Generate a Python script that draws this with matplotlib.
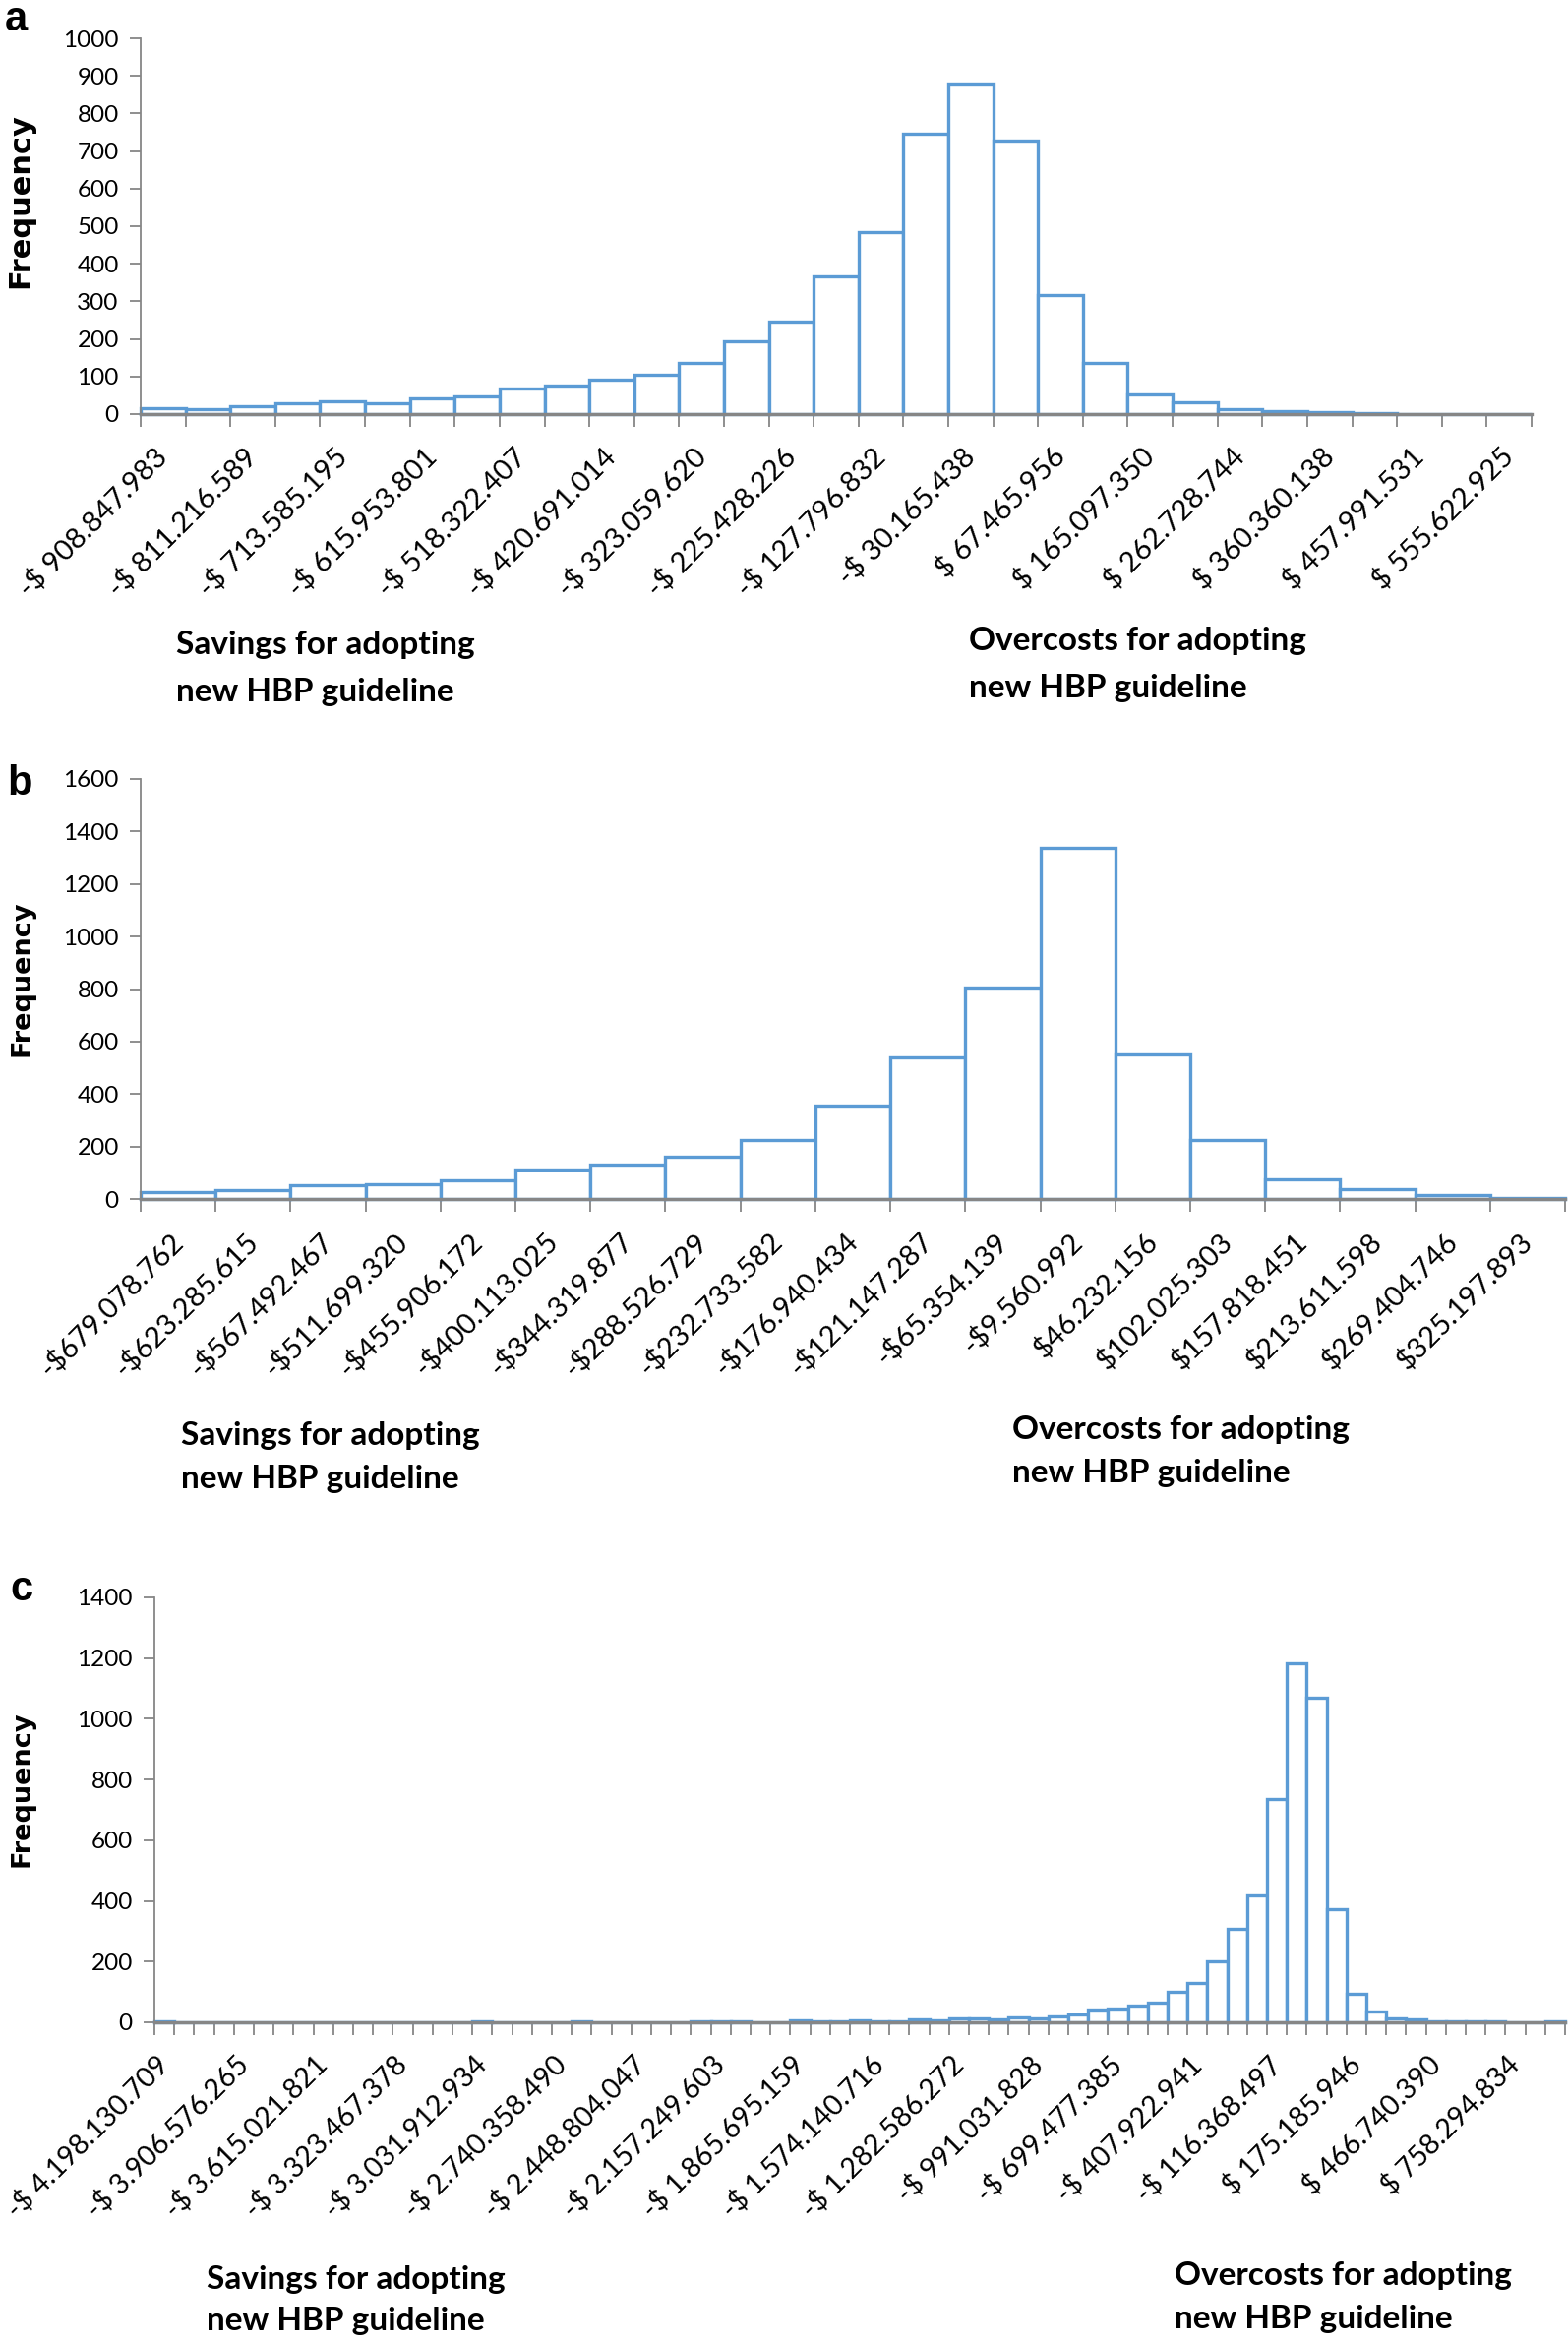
import numpy as np
import matplotlib.pyplot as plt

# %% Data
# panel a: 31 bins, labels on every 2nd bin
counts_a = [15, 13, 20, 30, 34, 29, 41, 48, 67, 77, 91, 105, 136, 195, 245,
            366, 484, 746, 880, 727, 318, 135, 52, 31, 12, 8, 6, 3, 1, 0, 0]
labels_a = ["-$ 908.847.983", "-$ 811.216.589", "-$ 713.585.195",
            "-$ 615.953.801", "-$ 518.322.407", "-$ 420.691.014",
            "-$ 323.059.620", "-$ 225.428.226", "-$ 127.796.832",
            "-$ 30.165.438", "$ 67.465.956", "$ 165.097.350",
            "$ 262.728.744", "$ 360.360.138", "$ 457.991.531",
            "$ 555.622.925"]

# panel b: 19 bins, a label on every bin
counts_b = [27, 35, 51, 57, 71, 112, 131, 161, 226, 357, 540, 804, 1338,
            549, 224, 76, 39, 14, 4]
labels_b = ["-$679.078.762", "-$623.285.615", "-$567.492.467",
            "-$511.699.320", "-$455.906.172", "-$400.113.025",
            "-$344.319.877", "-$288.526.729", "-$232.733.582",
            "-$176.940.434", "-$121.147.287", "-$65.354.139",
            "-$9.560.992", "$46.232.156", "$102.025.303", "$157.818.451",
            "$213.611.598", "$269.404.746", "$325.197.893"]

# panel c: 71 bins, labels on every 4th bin
counts_c = [3, 0, 0, 0, 0, 0, 0, 0, 0, 0, 0, 0, 0, 0, 0, 0, 3, 0, 0, 0,
            0, 2, 0, 0, 0, 0, 0, 2, 2, 2, 0,
            0, 7, 4, 2, 6, 2, 2, 11, 7, 13, 13, 11, 16, 13, 20, 25, 43, 46,
            56, 65, 99, 130, 202, 308, 418, 735, 1182, 1070, 373, 95, 35,
            14, 9, 4, 4, 2, 2, 1, 0, 2]
labels_c = ["-$ 4.198.130.709", "-$ 3.906.576.265", "-$ 3.615.021.821",
            "-$ 3.323.467.378", "-$ 3.031.912.934", "-$ 2.740.358.490",
            "-$ 2.448.804.047", "-$ 2.157.249.603", "-$ 1.865.695.159",
            "-$ 1.574.140.716", "-$ 1.282.586.272", "-$ 991.031.828",
            "-$ 699.477.385", "-$ 407.922.941", "-$ 116.368.497",
            "$ 175.185.946", "$ 466.740.390", "$ 758.294.834"]

# %% Style
W, H = 1594, 2382
BLUE = '#5B9BD5'
GREY = '#868686'
TXT = ['Lato', 'DejaVu Sans']

fig = plt.figure(figsize=(W/100, H/100), dpi=100)


def px_box(l, t, r, b):
    # pixel box (left, top, right, bottom) -> figure fraction
    return [l/W, 1 - b/H, (r - l)/W, (b - t)/H]


def draw_panel(box, counts, labels, step, ymax, ystep, xfs):
    ax = fig.add_axes(px_box(*box))
    n = len(counts)
    ax.bar(np.arange(n), counts, width=1, align='edge', facecolor='white',
           edgecolor=BLUE, linewidth=2.4, zorder=2, clip_on=False)
    ax.set_xlim(0, n)
    ax.set_ylim(0, ymax)
    ax.set_yticks(np.arange(0, ymax + 1, ystep))
    ax.set_xticks(np.arange(0, n, step) + 0.5)
    ax.set_xticklabels(labels, rotation=45, ha='right', va='center',
                       rotation_mode='anchor', fontsize=xfs, family=TXT)
    ax.set_xticks(np.arange(n + 1), minor=True)
    ax.tick_params(axis='x', which='major', length=0, pad=28)
    ax.tick_params(axis='x', which='minor', length=9, width=1.3,
                   color=GREY)
    ax.tick_params(axis='y', length=8, width=1.3, color=GREY, pad=8,
                   labelsize=17.5)
    for lab in ax.get_yticklabels():
        lab.set_family(TXT)
    for s in ['top', 'right']:
        ax.spines[s].set_visible(False)
    ax.spines['left'].set_color(GREY)
    ax.spines['left'].set_linewidth(1.3)
    ax.spines['bottom'].set_color(GREY)
    ax.spines['bottom'].set_linewidth(2.4)
    ax.spines['bottom'].set_zorder(3)
    return ax


ax_a = draw_panel((143, 39, 1557, 421), counts_a, labels_a, 2, 1000, 100, 21)
ax_b = draw_panel((143, 792, 1591, 1219), counts_b, labels_b, 1, 1600, 200, 21)
ax_c = draw_panel((157, 1624, 1591, 2056), counts_c, labels_c, 4, 1400, 200, 20.5)


def ftext(x, y, s, **kw):
    fig.text(x/W, 1 - y/H, s, **kw)


# panel letters and y labels
for letter, (lx, ly) in zip('abc', [(16, 20), (20, 797), (22, 1616)]):
    ftext(lx, ly, letter, fontsize=30, fontweight='bold',
          family='Liberation Sans', ha='center', va='center')
for (fx, fy), fs in zip([(21, 204), (23, 995), (23, 1819)], [22, 19.5, 19.5]):
    ftext(fx, fy, 'Frequency', fontsize=fs, fontweight='bold',
          family='DejaVu Sans', rotation=90, ha='center', va='center')

# savings / overcosts notes under each panel
notes = [((179, 656, 703), (985, 652, 700)),
         ((184, 1460, 1504), (1029, 1454, 1497)),
         ((210, 2317, 2360), (1194, 2313, 2357))]
for (sx, sy1, sy2), (ox, oy1, oy2) in notes:
    ftext(sx, sy1, 'Savings for adopting', fontsize=24, fontweight='bold',
          family=TXT, va='center')
    ftext(sx, sy2, 'new HBP guideline', fontsize=24, fontweight='bold',
          family=TXT, va='center')
    ftext(ox, oy1, 'Overcosts for adopting', fontsize=24, fontweight='bold',
          family=TXT, va='center')
    ftext(ox, oy2, 'new HBP guideline', fontsize=24, fontweight='bold',
          family=TXT, va='center')

fig.savefig('out.png', dpi=100)
